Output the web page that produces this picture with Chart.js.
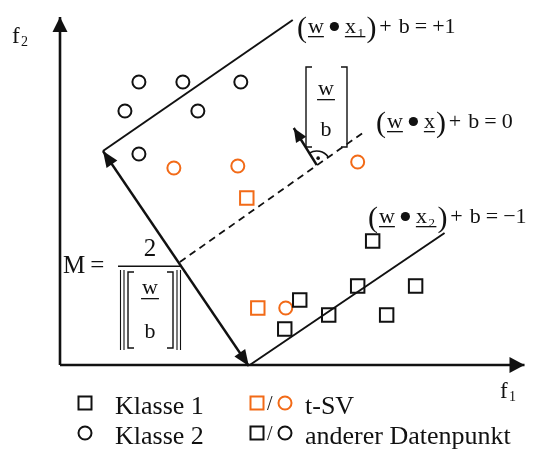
<!DOCTYPE html>
<html>
<head>
<meta charset="utf-8">
<script src="https://cdn.jsdelivr.net/npm/chart.js@4/dist/chart.umd.min.js"></script>
<style>
  html, body { margin: 0; background: #fff; }
  #c { display: block; }
</style>
</head>
<body>
<canvas id="c" width="536" height="449"></canvas>
<script>
// data space: f1 0..46.5, f2 0..34.8
const class1Other = [[31.3, 12.4], [29.8, 7.9], [35.6, 7.9], [24.0, 6.5], [26.9, 5.0], [32.7, 5.0], [22.5, 3.6]];
const class1Support = [[18.7, 16.7], [19.8, 5.7]];
const class2Other = [[7.9, 28.3], [12.3, 28.3], [18.1, 28.3], [6.5, 25.4], [13.8, 25.4], [7.9, 21.1]];
const class2Support = [[11.4, 19.7], [17.8, 19.9], [29.8, 20.3], [22.6, 5.7]];
const planePlus = [[4.3, 21.4], [23.3, 34.5]];
const planeMinus = [[19.0, 0], [38.5, 13.2]];
const planeZero = [[12.0, 10.3], [30.3, 23.2]];
const marginArrow = [[4.3, 21.4], [18.9, -0.1]];
const normalArrow = [[25.7, 20.0], [23.4, 23.7]];
const axisF1 = [[0, 0], [46.5, 0]];
const axisF2 = [[0, 0], [0, 34.8]];
const legendLabels = ['Klasse 1', 'Klasse 2', 't-SV', 'anderer Datenpunkt'];

const INK = '#111';
const ORANGE = '#f26a17';
const SERIF = '"Liberation Serif", "DejaVu Serif", serif';

const pts = (arr) => arr.map(([x, y]) => ({ x, y }));

const lineSet = (arr, extra = {}) => ({
  data: pts(arr),
  showLine: true,
  borderColor: INK,
  borderWidth: 2,
  pointRadius: 0,
  clip: false,
  ...extra
});

const markSet = (arr, style, color, r) => ({
  data: pts(arr),
  showLine: false,
  pointStyle: style,
  pointRadius: r,
  pointBorderColor: color,
  pointBackgroundColor: 'rgba(0,0,0,0)',
  pointBorderWidth: 2,
  clip: false
});

function arrowHead(ctx, from, tip, len, half) {
  const a = Math.atan2(tip[1] - from[1], tip[0] - from[0]);
  const bx = tip[0] - len * Math.cos(a), by = tip[1] - len * Math.sin(a);
  ctx.beginPath();
  ctx.moveTo(tip[0], tip[1]);
  ctx.lineTo(bx + half * Math.sin(a), by - half * Math.cos(a));
  ctx.lineTo(bx - half * Math.sin(a), by + half * Math.cos(a));
  ctx.closePath();
  ctx.fill();
}

function under(ctx, s, x, yb, extra = 0) {
  ctx.fillText(s, x, yb);
  const w = ctx.measureText(s).width;
  ctx.fillRect(x, yb + 3, w + extra, 1.3);
  return w;
}

// draw tokens one by one with a gap after each, returns new x
function tokens(ctx, x, yb, list) {
  list.forEach(([s, gap]) => {
    ctx.fillText(s, x, yb);
    x += ctx.measureText(s).width + gap;
  });
  return x;
}

function eqLabel(ctx, x, yb, sub, rhs) {
  ctx.font = `30px ${SERIF}`;
  ctx.fillText('(', x, yb + 4);
  x += ctx.measureText('(').width + 1;
  ctx.font = `22px ${SERIF}`;
  x += under(ctx, 'w', x, yb) + 6;
  ctx.beginPath();
  ctx.arc(x + 4.5, yb - 6.5, 4.6, 0, 2 * Math.PI);
  ctx.fill();
  x += 15;
  ctx.font = `13px ${SERIF}`;
  const sw = sub ? ctx.measureText(sub).width + 3 : 0;
  ctx.font = `22px ${SERIF}`;
  x += under(ctx, 'x', x, yb, sw);
  if (sub) {
    ctx.font = `13px ${SERIF}`;
    ctx.fillText(sub, x + 1.5, yb + 4);
    x += sw;
  }
  ctx.font = `30px ${SERIF}`;
  ctx.fillText(')', x + 1, yb + 4);
  x += ctx.measureText(')').width + 4;
  ctx.font = `22px ${SERIF}`;
  tokens(ctx, x, yb, [['+', 7], ['b', 5], ['=', 5], [rhs, 0]]);
}

function bracket(ctx, l, r, t, b, tick) {
  ctx.beginPath();
  ctx.moveTo(l + tick, t); ctx.lineTo(l, t); ctx.lineTo(l, b); ctx.lineTo(l + tick, b);
  ctx.moveTo(r - tick, t); ctx.lineTo(r, t); ctx.lineTo(r, b); ctx.lineTo(r - tick, b);
  ctx.stroke();
}

function wOverB(ctx, cx, yw, yb) {
  ctx.textAlign = 'center';
  ctx.font = `22px ${SERIF}`;
  ctx.fillText('w', cx, yw);
  const w = ctx.measureText('w').width;
  ctx.fillRect(cx - w / 2 - 1, yw + 4, w + 2, 1.3);
  ctx.fillText('b', cx, yb);
  ctx.textAlign = 'left';
}

const overlay = {
  id: 'overlay',
  afterDatasetsDraw(chart) {
    const { ctx, scales: { x, y } } = chart;
    const px = (p) => [x.getPixelForValue(p[0]), y.getPixelForValue(p[1])];
    ctx.save();
    ctx.fillStyle = INK;
    ctx.strokeStyle = INK;

    // axis arrows
    arrowHead(ctx, px(axisF1[0]), px(axisF1[1]), 15, 8);
    arrowHead(ctx, px(axisF2[0]), px(axisF2[1]), 15, 7.5);
    // margin double arrow
    arrowHead(ctx, px(marginArrow[1]), px(marginArrow[0]), 16, 6.5);
    arrowHead(ctx, px(marginArrow[0]), px(marginArrow[1]), 16, 6.5);
    // normal vector arrow
    arrowHead(ctx, px(normalArrow[0]), px(normalArrow[1]), 14, 6);

    // right-angle mark at the foot of the normal
    const foot = px(normalArrow[0]);
    const tip = px(normalArrow[1]);
    const a1 = Math.atan2(tip[1] - foot[1], tip[0] - foot[0]);
    const z1 = px(planeZero[1]);
    const a2 = Math.atan2(z1[1] - foot[1], z1[0] - foot[0]);
    ctx.lineWidth = 1.6;
    ctx.beginPath();
    ctx.arc(foot[0], foot[1], 14, a1, a2);
    ctx.stroke();
    const am = (a1 + a2) / 2;
    ctx.beginPath();
    ctx.arc(foot[0] + 7 * Math.cos(am), foot[1] + 7 * Math.sin(am), 1.8, 0, 2 * Math.PI);
    ctx.fill();

    ctx.textBaseline = 'alphabetic';
    ctx.textAlign = 'left';

    // axis titles
    ctx.font = `23px ${SERIF}`;
    ctx.fillText('f', 12, 43);
    ctx.fillText('f', 500, 398);
    ctx.font = `14px ${SERIF}`;
    ctx.fillText('2', 21, 46);
    ctx.fillText('1', 509, 401);

    // hyperplane equations
    eqLabel(ctx, 297, 33, '1', '+1');
    eqLabel(ctx, 376, 128, '', '0');
    eqLabel(ctx, 368, 223, '2', '\u22121');

    // normal vector [w/b]
    ctx.lineWidth = 1.4;
    bracket(ctx, 306, 347, 67, 147, 6);
    wOverB(ctx, 326, 95, 136);

    // margin width M = 2 / ||[w/b]||
    ctx.font = `25px ${SERIF}`;
    tokens(ctx, 63, 273, [['M', 5], ['=', 0]]);
    ctx.textAlign = 'center';
    ctx.fillText('2', 150, 256);
    ctx.textAlign = 'left';
    ctx.fillRect(118, 265.5, 62, 1.5);
    ctx.lineWidth = 1.1;
    ctx.beginPath();
    [120.5, 124, 177, 180.5].forEach((bx) => { ctx.moveTo(bx, 270); ctx.lineTo(bx, 350); });
    ctx.stroke();
    ctx.lineWidth = 1.4;
    bracket(ctx, 128, 173, 272, 348, 6);
    wOverB(ctx, 150, 294, 338);

    // legend
    const rows = [403, 433];
    const sq = (cx, cy, c) => { ctx.strokeStyle = c; ctx.lineWidth = 2; ctx.strokeRect(cx - 6.5, cy - 6.5, 13, 13); };
    const ci = (cx, cy, c) => { ctx.strokeStyle = c; ctx.lineWidth = 2; ctx.beginPath(); ctx.arc(cx, cy, 6.5, 0, 2 * Math.PI); ctx.stroke(); };
    sq(85, rows[0], INK);
    ci(85, rows[1], INK);
    sq(257, rows[0], ORANGE);
    ci(285, rows[0], ORANGE);
    sq(257, rows[1], INK);
    ci(285, rows[1], INK);
    ctx.font = `20px ${SERIF}`;
    ctx.fillText('/', 267, rows[0] + 7);
    ctx.fillText('/', 267, rows[1] + 7);
    ctx.font = `26px ${SERIF}`;
    ctx.fillText(legendLabels[0], 115, rows[0] + 11);
    ctx.fillText(legendLabels[1], 115, rows[1] + 11);
    ctx.fillText(legendLabels[2], 305, rows[0] + 11);
    ctx.fillText(legendLabels[3], 305, rows[1] + 11);

    ctx.restore();
  }
};

new Chart(document.getElementById('c'), {
  type: 'scatter',
  data: {
    datasets: [
      lineSet(axisF1, { borderWidth: 2.6 }),
      lineSet(axisF2, { borderWidth: 2.6 }),
      lineSet(planePlus),
      lineSet(planeMinus),
      lineSet(planeZero, { borderWidth: 1.8, borderDash: [7, 5] }),
      lineSet(marginArrow, { borderWidth: 2.4 }),
      lineSet(normalArrow, { borderWidth: 2.4 }),
      markSet(class1Other, 'rect', INK, 9.5),
      markSet(class1Support, 'rect', ORANGE, 9.5),
      markSet(class2Other, 'circle', INK, 6.5),
      markSet(class2Support, 'circle', ORANGE, 6.5)
    ]
  },
  options: {
    responsive: false,
    devicePixelRatio: 1,
    animation: false,
    events: [],
    layout: { padding: { left: 60, top: 17, right: 11, bottom: 84 } },
    scales: {
      x: { type: 'linear', display: false, min: 0, max: 46.5 },
      y: { type: 'linear', display: false, min: 0, max: 34.8 }
    },
    plugins: { legend: { display: false }, tooltip: { enabled: false } }
  },
  plugins: [overlay]
});
</script>
</body>
</html>
